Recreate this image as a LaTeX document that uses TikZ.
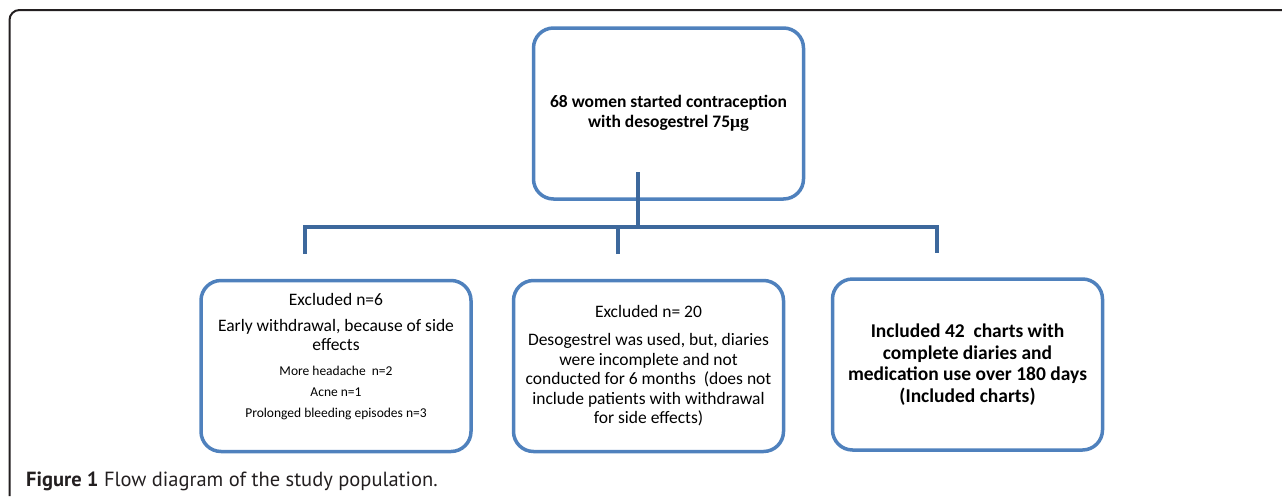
\documentclass[tikz,border=0pt]{standalone}
\usepackage{fontspec}
\setmainfont{Carlito}
\newfontfamily\capfont{PT Sans}
\newfontfamily\greekfont{Liberation Serif}
\definecolor{boxblue}{HTML}{4F81BD}
\definecolor{linkblue}{HTML}{3D689C}
\definecolor{framegray}{HTML}{231F20}
\tikzset{
  box/.style={draw=boxblue, line width=3.5pt, rounded corners=20pt,
    minimum width=270pt, minimum height=171pt, align=center, inner sep=0pt,
    font=\fontsize{17.5}{19.5}\selectfont},
  link/.style={draw=linkblue, line width=4pt},
}
\begin{document}
\begin{tikzpicture}[x=1pt,y=-1pt]
        \useasboundingbox (0,0) rectangle (1282,496);
        \draw [framegray, line width=2pt, rounded corners=10pt](9.5,496)--(9.5,10)--(1282,10);
        \node (start) at (668.5,113.5)[box,font=\bfseries\fontsize{17.5}{19.5}\selectfont]{68 women started contraception\\with desogestrel 75{\greekfont\bfseries μg}};
        \node (side) at (336,366)[box,text depth=21pt]{Excluded n=6\\[6.5pt]Early withdrawal, because of side\\effects\\[5.5pt]
            {\fontsize{13.5}{19.5}\selectfont More headache~ n=2}\\[1.5pt]{\fontsize{13.5}{19.5}\selectfont Acne n=1}\\[1.5pt]{\fontsize{13.5}{19.5}\selectfont Prolonged bleeding episodes n=3}};
        \node (diary) at (648.5,366)[box]{Excluded n= 20\\[8.5pt]Desogestrel was used, but, diaries\\were incomplete and not\\conducted for 6 months~ (does not\\include patients with withdrawal\\for side effects)};
        \node (incl) at (967.5,364.5)[box,font=\bfseries\fontsize{19.5}{21.5}\selectfont]{Included 42~ charts with\\complete diaries and\\medication use over 180 days\\(Included charts)};
        \coordinate (stem) at (638,172);
        \coordinate (hub) at (638,227);
        \coordinate (dropA) at (305,254);
        \coordinate (dropB) at (618,254);
        \coordinate (dropC) at (937,253);
        \draw [link](stem)--(hub);
        \draw [link](dropA)|-(hub)-|(dropC);
        \draw [link](dropB)--(dropB|-hub);
        \node (caption) at (26,481)[anchor=west,inner sep=0pt,text=framegray,font=\capfont\fontsize{20.5}{24}\selectfont]{\textbf{Figure 1} Flow diagram of the study population.};
\end{tikzpicture}
\end{document}
